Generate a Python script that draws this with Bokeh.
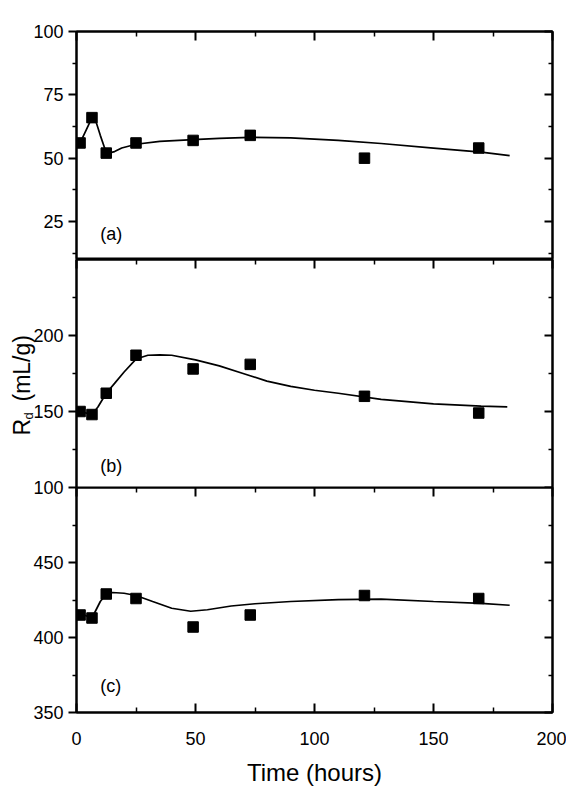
import math
from bokeh.plotting import figure
from bokeh.models import LinearAxis, FixedTicker, Range1d, Label
from bokeh.layouts import column, row
from bokeh.embed import file_html
from bokeh.resources import INLINE

# ---- data ----
time_pts = [1.5, 6.5, 12.5, 25, 49, 73, 121, 169]
rd_a = [56, 66, 52, 56, 57, 59, 50, 54]
rd_b = [150, 148, 162, 187, 178, 181, 160, 149]
rd_c = [415, 413, 429, 426, 407, 415, 428, 426]

fit_t_a = [1.5, 4, 6.5, 8, 10, 12, 13.5, 16, 19, 25, 35, 49, 60, 73, 90, 110, 128, 150, 170, 182]
fit_a = [56, 61, 66, 65, 59, 53.5, 52, 52.6, 54, 55.5, 56.6, 57.3, 57.8, 58.2, 58, 57, 55.8, 54, 52.4, 51]

fit_t_b = [1.5, 6.5, 9, 12.5, 16, 20, 25, 30, 35, 40, 50, 60, 70, 80, 90, 100, 110, 128, 150, 170, 181]
fit_b = [150, 148, 153, 162, 168.5, 176, 184.5, 187, 187.3, 187, 184, 180, 175, 170, 166.5, 164, 162, 158, 155, 153.5, 153]

fit_t_c = [1.5, 6.5, 10, 12.5, 15, 20, 25, 32, 40, 48, 55, 65, 75, 90, 110, 128, 150, 170, 182]
fit_c = [416, 413, 424, 429, 430, 429.5, 428, 424, 419.5, 417.5, 418.5, 421, 422.5, 424, 425.3, 425.6, 424, 422.8, 421.5]

x_major = [0, 50, 100, 150, 200]
x_minor = [25, 75, 125, 175]
y_major_a = [25, 50, 75, 100]
y_minor_a = [12.5, 37.5, 62.5, 87.5]
y_major_b = [100, 150, 200]
y_minor_b = [125, 175, 225]
y_major_c = [350, 400, 450]
y_minor_c = [375, 425, 475]

FONT = "Liberation Sans"
TITLE_W = 40
SHIFT = 10
W = 566 - TITLE_W + SHIFT


def style_axis(ax, labels, tick_in, tick_out, minor_in, minor_out):
    ax.axis_line_width = 2
    ax.axis_line_color = "black"
    ax.major_tick_line_width = 2
    ax.minor_tick_line_width = 1.5
    ax.major_tick_in = tick_in
    ax.major_tick_out = tick_out
    ax.minor_tick_in = minor_in
    ax.minor_tick_out = minor_out
    if labels:
        ax.major_label_text_font = FONT
        ax.major_label_text_font_size = "18px"
        ax.major_label_text_color = "black"
    else:
        ax.major_label_text_font_size = "0px"
        ax.major_label_text_color = None
        ax.major_label_standoff = 0


def panel(height, yr, ymaj, ymin, top_b, bot_b, t, fit_t, fit_y, vals, tag, tag_y):
    p = figure(width=W, height=height, x_range=Range1d(0, 200), y_range=Range1d(*yr),
               output_backend="svg", toolbar_location=None,
               x_axis_location=None, y_axis_location=None,
               min_border_left=46, min_border_right=14,
               min_border_top=top_b, min_border_bottom=bot_b)
    p.xgrid.grid_line_color = None
    p.ygrid.grid_line_color = None
    p.outline_line_color = "black"
    p.outline_line_width = 2
    p.background_fill_color = "white"
    p.border_fill_alpha = 0

    left = LinearAxis(ticker=FixedTicker(ticks=ymaj, minor_ticks=ymin))
    style_axis(left, True, 0, 8, 0, 4)
    left.major_label_standoff = 5
    p.add_layout(left, "left")

    right = LinearAxis(ticker=FixedTicker(ticks=ymaj, minor_ticks=ymin))
    style_axis(right, False, 8, 0, 4, 0)
    p.add_layout(right, "right")

    top = LinearAxis(ticker=FixedTicker(ticks=x_major, minor_ticks=x_minor))
    style_axis(top, False, 9, 0, 5, 0)
    p.add_layout(top, "above")

    p.line(fit_t, fit_y, line_color="black", line_width=1.7)
    p.scatter(t, vals, marker="square", size=10.5, fill_color="black", line_color="black")
    p.add_layout(Label(x=10, y=tag_y, text=tag, text_font=FONT, text_font_size="18px",
                       text_baseline="middle", text_color="black"))
    return p


OVERLAP = 10
p1 = panel(259, (10, 100), y_major_a, y_minor_a, 31, 0, time_pts, fit_t_a, fit_a, rd_a, "(a)", 20)
p2 = panel(228 + OVERLAP, (100, 250), y_major_b, y_minor_b, 0, OVERLAP, time_pts, fit_t_b, fit_b, rd_b, "(b)", 114)
p3 = panel(301, (350, 500), y_major_c, y_minor_c, 0, 74, time_pts, fit_t_c, fit_c, rd_c, "(c)", 368)
p3.margin = (-OVERLAP, 0, 0, 0)

bottom = LinearAxis(ticker=FixedTicker(ticks=x_major, minor_ticks=x_minor), axis_label="Time (hours)")
style_axis(bottom, True, 9, 0, 5, 0)
bottom.major_label_standoff = 19
bottom.axis_label_text_font = FONT
bottom.axis_label_text_font_size = "24px"
bottom.axis_label_text_font_style = "normal"
bottom.axis_label_text_color = "black"
bottom.axis_label_standoff = 11
p3.add_layout(bottom, "below")

# y axis title "Rd (mL/g)" with subscript d, rotated, in a narrow side canvas
pt = figure(width=TITLE_W, height=788, x_range=Range1d(0, TITLE_W), y_range=Range1d(0, 788),
            output_backend="svg", toolbar_location=None,
            x_axis_location=None, y_axis_location=None, min_border=0)
pt.xgrid.grid_line_color = None
pt.ygrid.grid_line_color = None
pt.outline_line_color = None
pt.add_layout(Label(x=21, y=353, text="R", angle=math.pi / 2, text_font=FONT, text_color="black",
                    text_font_size="23px", text_align="left", text_baseline="alphabetic"))
pt.add_layout(Label(x=28, y=369, text="d", angle=math.pi / 2, text_font=FONT, text_color="black",
                    text_font_size="13px", text_align="left", text_baseline="alphabetic"))
pt.add_layout(Label(x=21, y=387, text="(mL/g)", angle=math.pi / 2, text_font=FONT, text_color="black",
                    text_font_size="23px", text_align="left", text_baseline="alphabetic"))

panels = column(p1, p2, p3, spacing=0)
panels.margin = (0, 0, 0, -SHIFT)
layout = row(pt, panels, spacing=0)
open("out.html", "w").write(file_html(layout, INLINE))
